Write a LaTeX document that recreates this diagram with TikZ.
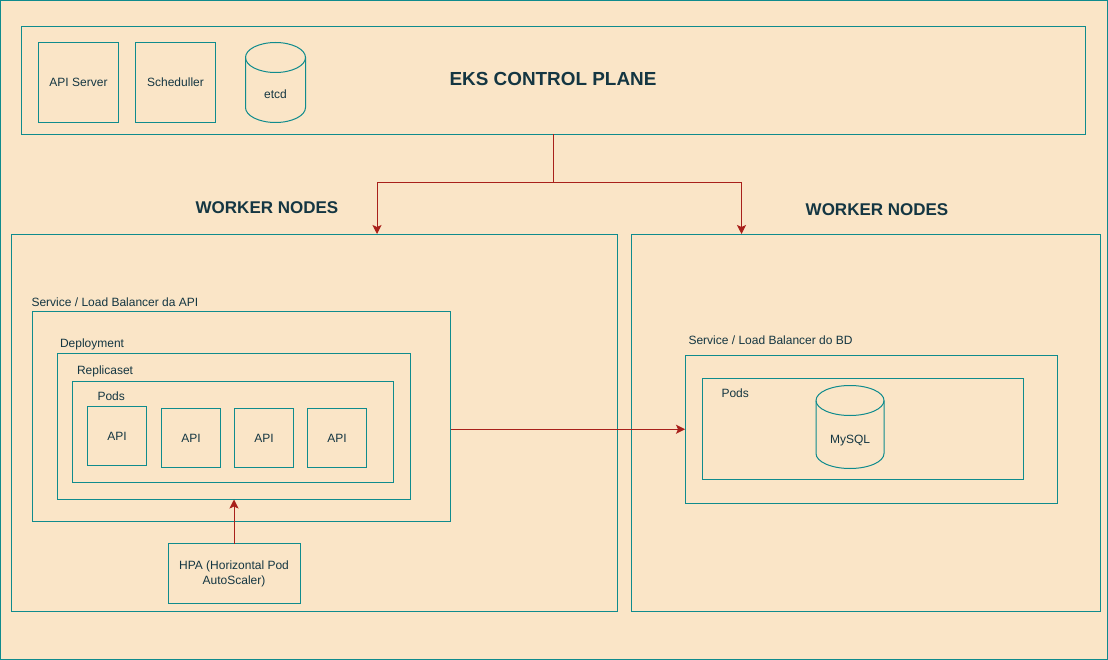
\documentclass[tikz,border=0pt]{standalone}
\usepackage{fontspec}
\setmainfont{Liberation Sans}
\usetikzlibrary{arrows.meta,calc}
\definecolor{paper}{HTML}{FAE5C7}
\definecolor{tealline}{HTML}{0F8B8D}
\definecolor{redline}{HTML}{A8201A}
\definecolor{inktext}{HTML}{143642}
\tikzset{
  x=1pt,y=-1pt,
  boxshape/.style={draw=tealline,line width=1pt,fill=none,rectangle,inner sep=0pt,outer sep=0pt,
    text=inktext,font=\fontsize{12}{15}\selectfont,align=center,text height=8pt,text depth=0pt},
  lbl/.style={inner sep=0pt,outer sep=0pt,text=inktext,font=\fontsize{12}{15}\selectfont,anchor=base west},
  lblmid/.style={lbl,anchor=base},
  title/.style={inner sep=0pt,outer sep=0pt,text=inktext,font=\bfseries\fontsize{17}{20}\selectfont,anchor=base},
  bigtitle/.style={title,font=\bfseries\fontsize{18.9}{22}\selectfont},
  cylline/.style={draw=tealline,line width=1pt},
  conn/.style={draw=redline,line width=1pt,-{Stealth[length=9pt,width=9pt,inset=2pt]}},
  connplain/.style={draw=redline,line width=1pt}
}
% box: name, left, top, right, bottom, text
\newcommand{\pxbox}[6]{\node[boxshape,minimum width={(#4-#2)*1pt},minimum height={(#5-#3)*1pt}] (#1) at ({(#2+#4)/2},{(#3+#5)/2}) {#6};}
% cylinder: centre x, top, radius x, bottom
\newcommand{\pxcyl}[4]{%
  \draw[cylline] ({#1-#3},{#2+15}) arc[start angle=180,end angle=-180,x radius=#3,y radius=15];
  \draw[cylline] ({#1-#3},{#2+15}) -- ({#1-#3},{#4-15}) arc[start angle=180,end angle=0,x radius=#3,y radius=15] -- ({#1+#3},{#2+15});}
\begin{document}
\begin{tikzpicture}
\useasboundingbox (0,0) rectangle (1108,660);
\fill[paper] (0,0) rectangle (1108,660);
\pxbox{outer}{0.5}{0.5}{1107.5}{659.5}{}
% control plane
\pxbox{cp}{21.5}{26.5}{1085.5}{134.5}{}
\pxbox{apiserver}{38.5}{42.5}{118.5}{122.5}{API Server}
\pxbox{sched}{135.5}{42.5}{215.5}{122.5}{Scheduller}
\pxcyl{275.5}{42.5}{30}{122.5}
\node[lblmid] (etcd) at (275.5,99) {etcd};
\node[bigtitle] (cptitle) at (553,86) {EKS CONTROL PLANE};
% worker titles
\node[title] (wltitle) at (267,213.7) {WORKER NODES};
\node[title] (wrtitle) at (877,215.7) {WORKER NODES};
% left worker
\pxbox{wl}{11.5}{234.5}{617.5}{611.5}{}
\pxbox{sapi}{32.5}{311.5}{450.5}{521.5}{}
\node[lbl] (sapilabel) at (31.5,306) {Service / Load Balancer da API};
\pxbox{dep}{57.5}{353.5}{410.5}{499.5}{}
\node[lbl] (deplabel) at (60,347) {Deployment};
\pxbox{rs}{72.5}{381.5}{393.5}{482.5}{}
\node[lbl] (rslabel) at (77,374) {Replicaset};
\node[lbl] (podslabel) at (97.5,400) {Pods};
\pxbox{apia}{87.5}{406.5}{146.5}{465.5}{API}
\pxbox{apib}{161.5}{408.5}{220.5}{467.5}{API}
\pxbox{apic}{234.5}{408.5}{293.5}{467.5}{API}
\pxbox{apid}{307.5}{408.5}{366.5}{467.5}{API}
\node[boxshape,minimum width=132pt,minimum height=60pt,text height=,text depth=] (hpa) at (234,573.5) {HPA (Horizontal Pod\\AutoScaler)};
% right worker
\pxbox{wr}{631.5}{234.5}{1100.5}{611.5}{}
\pxbox{sbd}{685}{355.5}{1057}{503}{}
\node[lbl] (sbdlabel) at (688.5,344) {Service / Load Balancer do BD};
\pxbox{podsbd}{702.5}{378.5}{1023.5}{479.5}{}
\node[lbl] (podsbdlabel) at (721.5,397) {Pods};
\pxcyl{850}{385.5}{34}{468.5}
\node[lblmid] (mysql) at (850,443) {MySQL};
% connectors
\coordinate (junction) at (553.5,182.5);
\coordinate (wlin) at (377,234);
\coordinate (wrin) at (741.5,234);
\draw[connplain] (cp.south) -- (junction);
\draw[conn] (junction) -| (wlin);
\draw[conn] (junction) -| (wrin);
\draw[conn] (hpa.north) -- (dep.south);
\draw[conn] (sbd.west -| sapi.east) -- (sbd.west);
\end{tikzpicture}
\end{document}
